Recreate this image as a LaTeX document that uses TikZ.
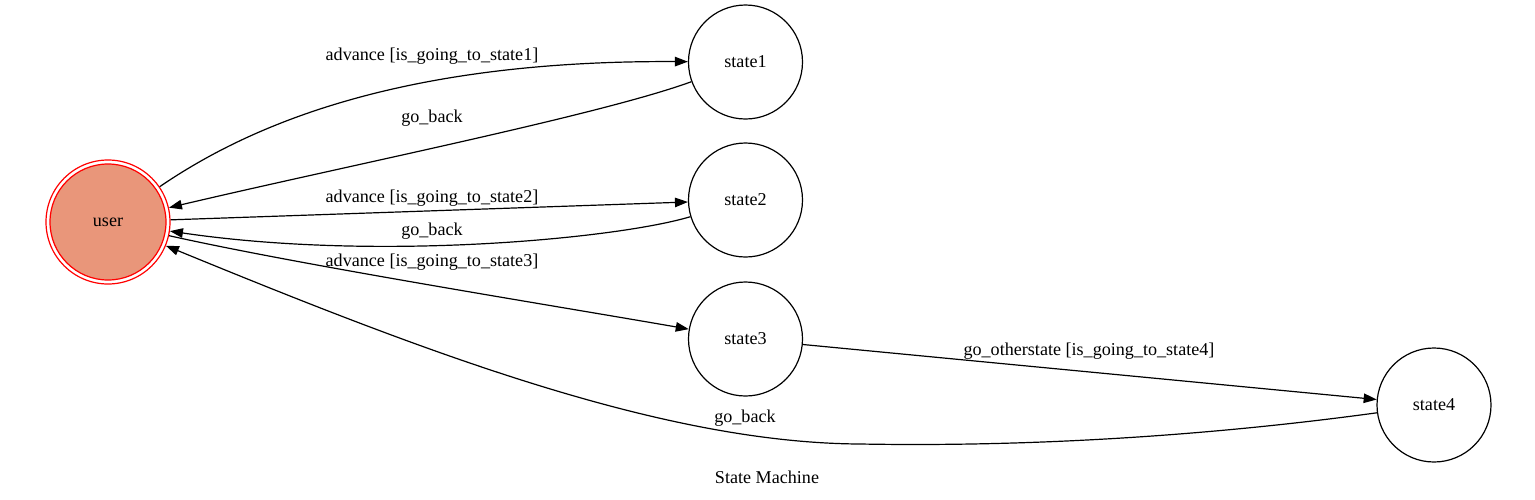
\documentclass[tikz,border=0pt]{standalone}
\usepackage{fontspec}
\setmainfont{Liberation Serif}
\usetikzlibrary{arrows.meta}
\definecolor{usrfill}{RGB}{233,150,122}
\begin{document}
\begin{tikzpicture}[x=1pt,y=-1pt,
  font=\fontsize{18.1}{21}\selectfont,
  st/.style={circle,draw=black,line width=1.2pt,minimum size=114pt,inner sep=0pt},
  edge/.style={draw=black,line width=1.2pt,-{Triangle[length=13pt,width=9.5pt]}},
  lbl/.style={inner sep=0pt,anchor=center}]
\useasboundingbox (0,0) rectangle (1535,499);
\fill[white] (0,0) rectangle (1535,499);
% nodes
\node[circle,draw=red,line width=1.2pt,minimum size=124pt,inner sep=0pt] (user) at (108,222) {};
\node[circle,draw=red,fill=usrfill,line width=1.2pt,minimum size=116pt,inner sep=0pt] (userin) at (108,222) {user};
\node[st] (state1) at (745.5,62) {state1};
\node[st] (state2) at (745.5,200) {state2};
\node[st] (state3) at (745.5,339) {state3};
\node[st] (state4) at (1434,405) {state4};
\coordinate (via) at (860,444);
% edges
\draw[edge] (user) .. controls (250,125) and (400,60) .. (state1);
\draw[edge] (state1) .. controls (600,115) and (350,165) .. (user);
\draw[edge] (user) -- (state2);
\draw[edge] (state2) .. controls (620,238) and (380,262) .. (user);
\draw[edge] (user) .. controls (300,265) and (550,305) .. (state3);
\draw[edge] (state3) -- (state4);
\draw[edge] (state4) .. controls (1207,436) and (1030,447) .. (via) .. controls (660,443) and (420,350) .. (user);
% labels
\node[lbl] (l1) at (432,56) {advance [is\_going\_to\_state1]};
\node[lbl] (l2) at (432,118) {go\_back};
\node[lbl] (l3) at (432,198) {advance [is\_going\_to\_state2]};
\node[lbl] (l4) at (432,231) {go\_back};
\node[lbl] (l5) at (432,262) {advance [is\_going\_to\_state3]};
\node[lbl] (l6) at (1089,351) {go\_otherstate [is\_going\_to\_state4]};
\node[lbl] (l7) at (745,418) {go\_back};
\node[lbl] (title) at (767,477) {State Machine};
\end{tikzpicture}
\end{document}
